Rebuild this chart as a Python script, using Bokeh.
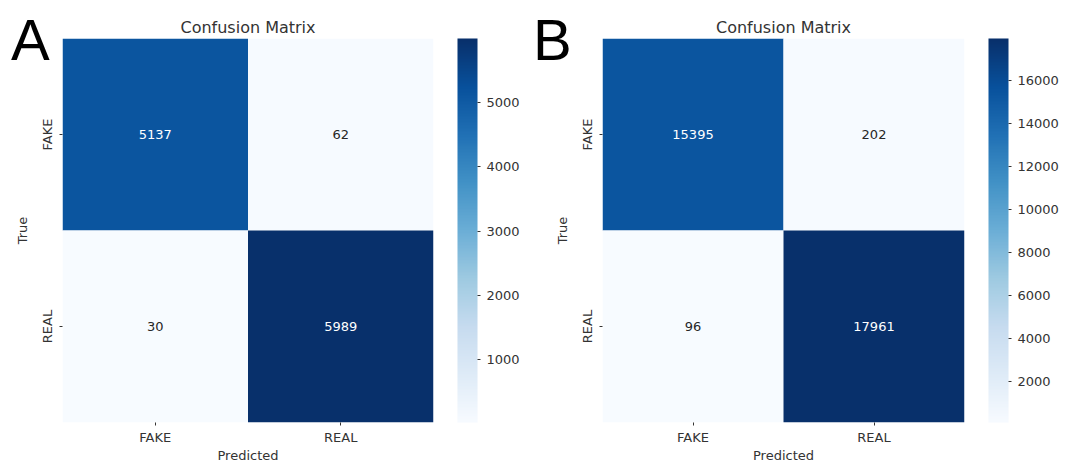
from bokeh.plotting import figure
from bokeh.models import (ColumnDataSource, FactorRange, LinearColorMapper,
                          ColorBar, FixedTicker, Div, GridBox)
from bokeh.palettes import Blues256
from bokeh.core.properties import value
from bokeh.embed import file_html
from bokeh.resources import INLINE

# ---------------- data ----------------
classes = ["FAKE", "REAL"]
cm_a = [[5137, 62], [30, 5989]]          # rows = true, cols = predicted
cm_b = [[15395, 202], [96, 17961]]
cbar_ticks_a = [1000, 2000, 3000, 4000, 5000]
cbar_ticks_b = [2000, 4000, 6000, 8000, 10000, 12000, 14000, 16000]
panel_letters = ["A", "B"]
title_text = "Confusion Matrix"
x_label = "Predicted"
y_label = "True"

FONT = "DejaVu Sans"
TXT = "#333333"
PALETTE = list(reversed(Blues256))


def make_panel(cm, ticks, width, left, right):
    t_col, p_col, counts = [], [], []
    for i, t in enumerate(classes):
        for j, pr in enumerate(classes):
            t_col.append(t)
            p_col.append(pr)
            counts.append(cm[i][j])
    lo, hi = min(counts), max(counts)
    tcolors = ["#ffffff" if (c - lo) / (hi - lo) > 0.5 else "#262626" for c in counts]
    src = ColumnDataSource(dict(pred=p_col, true=t_col, count=counts,
                                label=[str(c) for c in counts], tcolor=tcolors))
    mapper = LinearColorMapper(palette=PALETTE, low=lo, high=hi)

    p = figure(width=width, height=466,
               x_range=FactorRange(factors=list(classes)),
               y_range=FactorRange(factors=list(classes[::-1])),
               output_backend="svg", toolbar_location=None,
               min_border_left=left, min_border_right=right,
               min_border_top=38, min_border_bottom=44)
    p.rect(x="pred", y="true", width=1, height=1, source=src,
           fill_color={"field": "count", "transform": mapper}, line_color=None)
    p.text(x="pred", y="true", text="label", source=src,
           text_align="center", text_baseline="middle", text_color="tcolor",
           text_font=value(FONT), text_font_size="13px")

    p.title.text = title_text
    p.title.align = "center"
    p.title.text_font = FONT
    p.title.text_font_size = "16px"
    p.title.text_font_style = "normal"
    p.title.text_color = TXT
    p.title.standoff = 3

    p.xaxis.axis_label = x_label
    p.yaxis.axis_label = y_label
    for ax in (p.xaxis[0], p.yaxis[0]):
        ax.axis_line_color = None
        ax.major_tick_out = 3
        ax.major_tick_in = 0
        ax.major_tick_line_color = TXT
        ax.major_label_text_font = FONT
        ax.major_label_text_font_size = "13px"
        ax.major_label_text_color = TXT
        ax.axis_label_text_font = FONT
        ax.axis_label_text_font_size = "13px"
        ax.axis_label_text_font_style = "normal"
        ax.axis_label_text_color = TXT
    p.xaxis.major_label_standoff = 4
    p.xaxis.axis_label_standoff = 0
    p.yaxis.major_label_standoff = 5
    p.yaxis.axis_label_standoff = 7
    p.yaxis.major_label_orientation = "vertical"

    p.xgrid.visible = False
    p.ygrid.visible = False
    p.outline_line_color = None

    cb = ColorBar(color_mapper=mapper, ticker=FixedTicker(ticks=ticks),
                  width=20, margin=0, padding=0, location=(24, 0),
                  major_tick_out=3, major_tick_in=0, major_tick_line_color=TXT,
                  major_label_text_font=FONT, major_label_text_font_size="13px",
                  major_label_text_color=TXT, label_standoff=6,
                  bar_line_color=None, border_line_color=None,
                  background_fill_alpha=0)
    p.add_layout(cb, "right")
    return p


def letter_div(letter, pad_left):
    html = ("<div style=\"font-family:'Liberation Sans',Arial,sans-serif;"
            "font-size:58px;line-height:58px;color:#000;margin:0;"
            f"padding:11px 0 0 {pad_left}px\">{letter}</div>")
    return Div(text=html, width=70, height=80, margin=0)


pa = make_panel(cm_a, cbar_ticks_a, 530, 62, 97)
pb = make_panel(cm_b, cbar_ticks_b, 543, 72, 109)
da = letter_div(panel_letters[0], 11)
db = letter_div(panel_letters[1], 3)

layout = GridBox(children=[(pa, 0, 0), (pb, 0, 1), (da, 0, 0), (db, 0, 1)],
                 spacing=0)
open("out.html", "w").write(file_html(layout, INLINE))
